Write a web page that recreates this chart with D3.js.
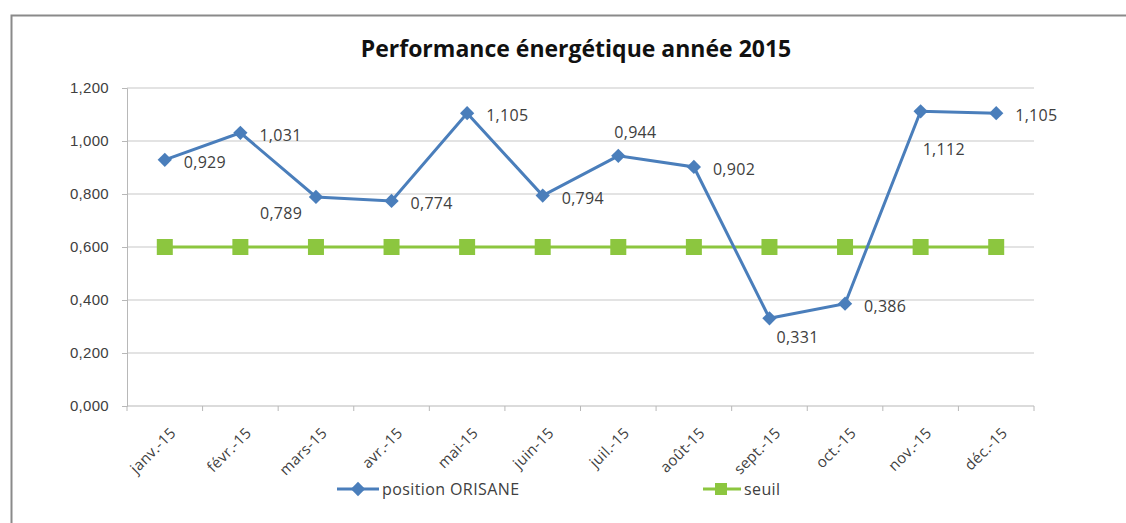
<!DOCTYPE html>
<meta charset="utf-8">
<head>
<title>Performance énergétique 2015</title>
<style>
  body { margin: 0; background: #fff; }
  svg { display: block; font-family: "Open Sans", sans-serif; }
  .grid line { stroke: #c8c8c8; stroke-width: 1.2px; }
  .axis text { fill: #404040; font-size: 15px; letter-spacing: 0.3px; }
  .axis path, .axis line { stroke: #b8b8b8; }
</style>
</head>
<body>
<script src="https://d3js.org/d3.v7.min.js"></script>
<script>

const months = ["janv.-15", "févr.-15", "mars-15", "avr.-15", "mai-15", "juin-15",
                "juil.-15", "août-15", "sept.-15", "oct.-15", "nov.-15", "déc.-15"];
const orisane = [0.929, 1.031, 0.789, 0.774, 1.105, 0.794, 0.944, 0.902, 0.331, 0.386, 1.112, 1.105];
const seuil = [0.6, 0.6, 0.6, 0.6, 0.6, 0.6, 0.6, 0.6, 0.6, 0.6, 0.6, 0.6];
const yTicks = [0, 0.2, 0.4, 0.6, 0.8, 1.0, 1.2];
// where each data label sits relative to its point
const labelPos = ["right", "right", "belowleft", "right", "right", "right",
                  "above", "right", "below", "right", "farbelow", "right"];

const width = 1126, height = 523;
const mLeft = 127, mRight = 1034, mTop = 88, mBottom = 406;

const fmt = v => d3.format(".3f")(v).replace(".", ",");

const svg = d3.select("body").append("svg")
    .attr("width", width)
    .attr("height", height);

svg.append("rect")
    .attr("x", 11.5).attr("y", 15.5)
    .attr("width", 1200).attr("height", 600)
    .attr("fill", "#fff")
    .attr("stroke", "#8a8a8a")
    .attr("stroke-width", 2);

svg.append("text")
    .attr("x", 576).attr("y", 57)
    .attr("text-anchor", "middle")
    .attr("font-size", "23px")
    .attr("font-weight", "bold")
    .attr("fill", "#111")
    .text("Performance énergétique année 2015");

const x = d3.scaleBand().domain(months).range([mLeft, mRight]);
const y = d3.scaleLinear().domain([0, 1.2]).range([mBottom, mTop]);
const cx = m => x(m) + x.bandwidth() / 2;

// gridlines
svg.append("g").attr("class", "grid")
  .selectAll("line")
  .data(yTicks.slice(1))
  .join("line")
    .attr("x1", mLeft).attr("x2", mRight)
    .attr("y1", d => y(d)).attr("y2", d => y(d));

// y axis
const yAxis = svg.append("g").attr("class", "axis")
    .attr("transform", `translate(${mLeft},0)`)
    .call(d3.axisLeft(y).tickValues(yTicks).tickFormat(fmt).tickSizeOuter(0).tickSize(5).tickPadding(13));
yAxis.select(".domain").attr("stroke", "#b8b8b8");

// x axis with ticks on category boundaries
const xg = svg.append("g").attr("class", "axis")
    .attr("transform", `translate(0,${mBottom})`);
xg.append("line").attr("x1", mLeft).attr("x2", mRight).attr("stroke", "#b8b8b8").attr("stroke-width", 1.2);
xg.selectAll(".tk")
  .data(months.concat(["end"]))
  .join("line")
    .attr("class", "tk")
    .attr("x1", (d, i) => mLeft + i * x.step())
    .attr("x2", (d, i) => mLeft + i * x.step())
    .attr("y1", 0).attr("y2", 5);
xg.selectAll("text")
  .data(months)
  .join("text")
    .attr("text-anchor", "end")
    .attr("font-size", "16px")
    .attr("transform", d => `translate(${cx(d) + 12},${28}) rotate(-45)`)
    .text(d => d);

// seuil series
const line = d3.line().x((d, i) => cx(months[i])).y(d => y(d));
svg.append("path")
    .datum(seuil)
    .attr("d", line)
    .attr("fill", "none")
    .attr("stroke", "#8cc63f")
    .attr("stroke-width", 3);
svg.selectAll(".sq")
  .data(seuil)
  .join("rect")
    .attr("class", "sq")
    .attr("x", (d, i) => cx(months[i]) - 8)
    .attr("y", d => y(d) - 8)
    .attr("width", 16).attr("height", 16)
    .attr("fill", "#8cc63f");

// ORISANE series
svg.append("path")
    .datum(orisane)
    .attr("d", line)
    .attr("fill", "none")
    .attr("stroke", "#4a7ebb")
    .attr("stroke-width", 3);
const diamond = d3.symbol().type(d3.symbolDiamond2).size(130);
svg.selectAll(".dm")
  .data(orisane)
  .join("path")
    .attr("class", "dm")
    .attr("d", diamond)
    .attr("transform", (d, i) => `translate(${cx(months[i])},${y(d)})`)
    .attr("fill", "#4a7ebb");

const offsets = {
  right: [19, 2], belowleft: [-56, 16], above: [-4, -24],
  below: [7, 19], farbelow: [2, 38]
};
svg.selectAll(".lbl")
  .data(orisane)
  .join("text")
    .attr("class", "lbl")
    .attr("font-size", "16px")
    .attr("letter-spacing", "0.3px")
    .attr("fill", "#404040")
    .attr("dominant-baseline", "central")
    .attr("x", (d, i) => cx(months[i]) + offsets[labelPos[i]][0])
    .attr("y", (d, i) => y(d) + offsets[labelPos[i]][1])
    .text(d => fmt(d));

// legend
const leg = svg.append("g").attr("font-size", "16px").attr("letter-spacing", "0.4px")
    .attr("fill", "#404040").attr("dominant-baseline", "central");
leg.append("line").attr("x1", 337).attr("x2", 379).attr("y1", 489).attr("y2", 489)
    .attr("stroke", "#4a7ebb").attr("stroke-width", 3);
leg.append("path").attr("d", diamond).attr("transform", "translate(358,489)").attr("fill", "#4a7ebb");
leg.append("text").attr("x", 382).attr("y", 489).text("position ORISANE");
leg.append("line").attr("x1", 703).attr("x2", 741).attr("y1", 489).attr("y2", 489)
    .attr("stroke", "#8cc63f").attr("stroke-width", 3);
leg.append("rect").attr("x", 715).attr("y", 483).attr("width", 12).attr("height", 12).attr("fill", "#8cc63f");
leg.append("text").attr("x", 744).attr("y", 489).text("seuil");

</script>
</body>
